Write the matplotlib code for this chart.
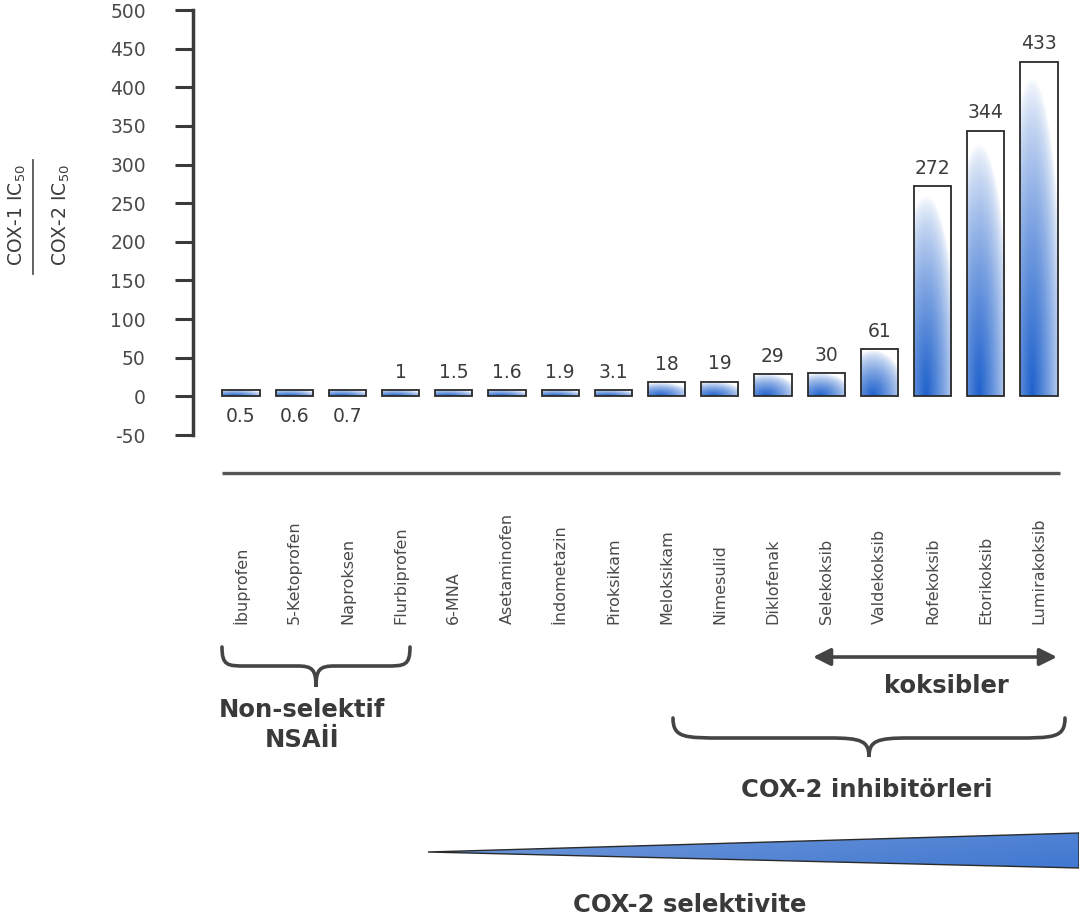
import numpy as np
import matplotlib
matplotlib.use("Agg")
import matplotlib.pyplot as plt
from matplotlib.path import Path
from matplotlib.patches import PathPatch, Polygon
from matplotlib.transforms import blended_transform_factory

# ---------------- data ----------------
drugs = ["İbuprofen", "5-Ketoprofen", "Naproksen", "Flurbiprofen", "6-MNA",
         "Asetaminofen", "İndometazin", "Piroksikam", "Meloksikam", "Nimesulid",
         "Diklofenak", "Selekoksib", "Valdekoksib", "Rofekoksib", "Etorikoksib",
         "Lumirakoksib"]
ratios = [0.5, 0.6, 0.7, 1, 1.5, 1.6, 1.9, 3.1, 18, 19, 29, 30, 61, 272, 344, 433]
yticks = [-50, 0, 50, 100, 150, 200, 250, 300, 350, 400, 450, 500]

MIN_VISIBLE = 8          # very small ratios are drawn as a thin visible bar
BLUE = np.array([0.12, 0.38, 0.80])
DARK = "#3a3a3a"
TXT = "#3c3c3c"

plt.rcParams["font.family"] = ["DejaVu Sans"]
plt.rcParams["axes.unicode_minus"] = False

W, H = 1079, 922
fig = plt.figure(figsize=(W / 100, H / 100), dpi=100)

# overlay axes in pixel coordinates (for annotations)
ov = fig.add_axes([0, 0, 1, 1], zorder=0)
ov.set_xlim(0, W)
ov.set_ylim(H, 0)
ov.axis("off")
ov.patch.set_visible(False)

# main bar axes
ax_l, ax_top, ax_bot = 193, 10, 435
ax = fig.add_axes([ax_l / W, 1 - ax_bot / H, 1 - ax_l / W, (ax_bot - ax_top) / H], zorder=1)
ax.patch.set_alpha(0)

x = np.arange(len(ratios))
heights = np.maximum(np.array(ratios, dtype=float), MIN_VISIBLE)
bw = 0.70

# gradient image (white top-right -> blue bottom-left)
n = 160
u = np.linspace(0, 1, n)[None, :]
v = np.linspace(0, 1, n)[:, None]
r = np.sqrt(((u - 0.32) / 0.85) ** 2 + (v / 0.95) ** 2)
t = np.clip(1.0 - r, 0, 1) ** 0.7
img = (1 - t)[..., None] * np.ones(3) + t[..., None] * BLUE

bars = ax.bar(x, heights, width=bw, facecolor="none", edgecolor="#2a2a2a",
              linewidth=1.3, zorder=3)
for b in bars:
    x0, y0 = b.get_x(), b.get_y()
    im = ax.imshow(img, extent=[x0, x0 + b.get_width(), y0, y0 + b.get_height()],
                   origin="lower", aspect="auto", zorder=2, interpolation="bilinear")
    im.set_clip_path(b)

for xi, val, h in zip(x, ratios, heights):
    lab = f"{val:g}"
    if val < 1:
        ax.annotate(lab, (xi, 0), xytext=(0, -8), textcoords="offset points",
                    ha="center", va="top", fontsize=13.5, color=TXT)
    else:
        ax.annotate(lab, (xi, h), xytext=(0, 6), textcoords="offset points",
                    ha="center", va="bottom", fontsize=13.5, color=TXT)

ax.set_xlim((ax_l - 241) / 53.2, (W - 241) / 53.2)
ax.set_ylim(-50, 500)
ax.set_yticks(yticks)
ax.set_xticks([])
for s in ["top", "right", "bottom"]:
    ax.spines[s].set_visible(False)
ax.spines["left"].set_linewidth(2.5)
ax.spines["left"].set_color(DARK)
ax.tick_params(axis="y", direction="out", length=13, width=2.2, color=DARK,
               pad=21, labelsize=13.5, labelcolor="#4a4a4a")

# y label as fraction
ov.text(17, 215, r"COX-1 IC$_{50}$", rotation=90, ha="center", va="center",
        fontsize=13.5, color=TXT)
ov.text(61, 215, r"COX-2 IC$_{50}$", rotation=90, ha="center", va="center",
        fontsize=13.5, color=TXT)
ov.plot([33, 33], [160, 274], color="#555555", lw=1.3)

# horizontal separator
ov.plot([222, 1060], [473, 473], color="#555555", lw=2.4, solid_capstyle="butt")

# category labels
bt = blended_transform_factory(ax.transData, ov.transData)
for xi, name in zip(x, drugs):
    ov.text(xi, 624, name, transform=bt, rotation=90, ha="center", va="bottom",
            fontsize=11.5, color="#4a4a4a")


def brace(x0, x1, ytop, ymid, ytip, **kw):
    w = x1 - x0
    xc = (x0 + x1) / 2
    verts = [
        (x0, ytop),
        (x0, ymid), (x0 + 0.03 * w, ymid), (x0 + 0.13 * w, ymid),
        (xc - 0.10 * w, ymid),
        (xc - 0.02 * w, ymid), (xc, ymid + 0.15 * (ytip - ymid)), (xc, ytip),
        (xc, ymid + 0.15 * (ytip - ymid)), (xc + 0.02 * w, ymid), (xc + 0.10 * w, ymid),
        (x1 - 0.13 * w, ymid),
        (x1 - 0.03 * w, ymid), (x1, ymid), (x1, ytop),
    ]
    codes = [Path.MOVETO,
             Path.CURVE4, Path.CURVE4, Path.CURVE4,
             Path.LINETO,
             Path.CURVE4, Path.CURVE4, Path.CURVE4,
             Path.CURVE4, Path.CURVE4, Path.CURVE4,
             Path.LINETO,
             Path.CURVE4, Path.CURVE4, Path.CURVE4]
    ov.add_patch(PathPatch(Path(verts, codes), facecolor="none", **kw))


brace(222, 410, 647, 666, 687, edgecolor="#444444", lw=2.6, capstyle="round")
brace(673, 1065, 718, 738, 757, edgecolor="#444444", lw=2.6, capstyle="round")

# koksibler arrow
ov.annotate("", xy=(1057, 657), xytext=(813, 657),
            arrowprops=dict(arrowstyle="<|-|>", mutation_scale=26, lw=2.6,
                            color="#444444", shrinkA=0, shrinkB=0))

bold = dict(fontsize=17.5, fontweight="bold", color="#3a3a3a", ha="center", va="center")
ov.text(302, 710, "Non-selektif", **bold)
ov.text(302, 740, "NSAİİ", **bold)
ov.text(946, 686, "koksibler", **bold)
ov.text(867, 790, "COX-2 inhibitörleri", **bold)
ov.text(690, 905, "COX-2 selektivite", **bold)

# selectivity wedge with gradient
wedge = Polygon([(428, 852), (1079, 833), (1079, 868)], closed=True,
                facecolor="none", edgecolor="#2a2a2a", lw=1.0, zorder=3)
ov.add_patch(wedge)
gx = np.linspace(0, 1, 200)[None, :]
gy = np.linspace(0, 1, 40)[:, None]
c0 = np.array([0.45, 0.60, 0.85])
c1 = np.array([0.25, 0.47, 0.82])
tt = np.clip(0.7 * gx + 0.3 * gy, 0, 1)
wimg = (1 - tt)[..., None] * c0 + tt[..., None] * c1
wim = ov.imshow(wimg, extent=[428, 1079, 868, 833], origin="upper", aspect="auto",
                zorder=2, interpolation="bilinear")
wim.set_clip_path(wedge)
ov.set_xlim(0, W)
ov.set_ylim(H, 0)

fig.savefig("out.png", dpi=100)
